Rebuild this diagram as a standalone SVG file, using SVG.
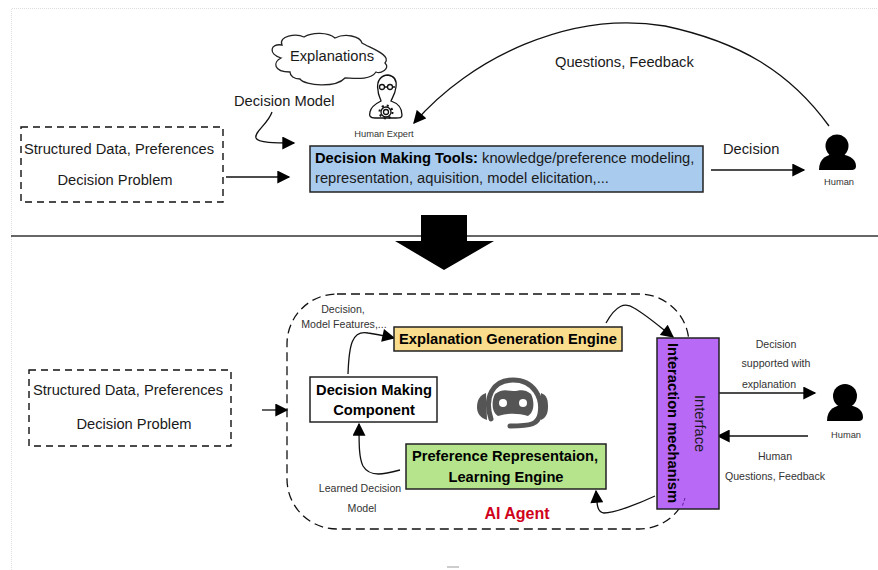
<svg xmlns="http://www.w3.org/2000/svg" width="878" height="570" viewBox="0 0 878 570">
<defs>
<marker id="ah" viewBox="0 0 10 10" refX="9" refY="5" markerWidth="14" markerHeight="13" markerUnits="userSpaceOnUse" orient="auto"><path d="M0 0L10 5L0 10Z" fill="#000"/></marker>
</defs>
<style>
text{font-family:"Liberation Sans",Arial,sans-serif;fill:#1a1a1a}
.t14{font-size:14.7px}.t10{font-size:10.6px;fill:#333}.t9{font-size:9.300px;fill:#333}
.b{font-weight:bold;fill:#000}
.c{fill:none;stroke:#111;stroke-width:1.3;marker-end:url(#ah)}
.d{fill:#fff;stroke:#111;stroke-width:1.4;stroke-dasharray:7 5}
.n{stroke:#222;stroke-width:1.5}
</style>
<rect width="878" height="570" fill="#fff"/>
<path d="M11.500 570V8.500H878" fill="none" stroke="#ddd" stroke-width="1" stroke-dasharray="1 1"/>
<path d="M11 236H878" stroke="#333" stroke-width="1.500"/>
<path d="M447 567H459" stroke="#aaa" stroke-width="1.200"/>
<path id="big-arrow" d="M421 215H467V241H494L444 270L395 241H421Z" fill="#000"/>

<g id="connectors">
<path class="c" d="M272 112C268 124 254 132 256 138C258 143 275 143 294 143"/>
<path class="c" d="M226 177H289"/>
<path class="c" d="M711 170H804"/>
<path class="c" d="M829 126C790 72 740 42 665 26C570 10 470 58 414 123"/>
<path class="c" d="M262 410H287"/>
<path class="c" d="M348 374C349 345 352 330 368 333C376 334 385 336 394 338"/>
<path class="c" d="M400 470C385 474 370 478 363 466C359 458 359 445 359 424"/>
<path class="c" d="M606 323C616 305 625 302 634 308C645 314 660 327 673 337"/>
<path class="c" d="M655 496C640 503 615 513 604 513C597 512 597 505 596 491"/>
<path class="c" d="M718 393H815"/>
<path class="c" d="M808 436H718"/>
</g>

<g id="input-top"><rect class="d" x="21" y="127" width="202" height="75"/><text class="t14" x="119" y="154" text-anchor="middle">Structured Data, Preferences</text><text class="t14" x="115" y="185" text-anchor="middle">Decision Problem</text></g>
<text class="t14" x="234" y="106">Decision Model</text>

<g id="explanations">
<path d="M290 72C273 72 273 62 281 58C268 54 270 43 282 45C278 36 296 33 304 37C312 32 328 32 335 38C345 33 360 36 362 43C370 48 392 55 385 63C391 69 380 74 376 72C370 81 352 78 345 78C336 88 305 86 300 79C294 79 290 76 290 72Z" fill="#fff" stroke="#222" stroke-width="1.300"/>
<text class="t14" x="332" y="61" text-anchor="middle">Explanations</text>
</g>

<g id="human-expert" fill="none" stroke="#111" stroke-width="1.300">
<path d="M378 90C376 80 382 75 388 75C394 76 397 80 396 87C395 95 392 98 391 101C397 103 402 107 402 115C402 118 400 118 396 118H375C370 118 369 116 370 112C371 106 377 103 381 101C380 97 378 95 378 90Z" fill="#fff"/>
<circle cx="382" cy="87" r="2.500"/><circle cx="390" cy="87" r="2.500"/><path d="M384.500 87H387.500M392.500 87H395"/>
<circle cx="386" cy="112" r="5"/><circle cx="386" cy="112" r="2.500"/>
<circle cx="386" cy="112" r="6.500" stroke-width="2" stroke-dasharray="2 3.100"/>
<text x="384" y="137" text-anchor="middle" class="t9" stroke="none" fill="#333">Human Expert</text>
</g>

<g id="tools"><rect x="310" y="146" width="393" height="46" fill="#a9cbed" stroke="#222" stroke-width="1.500"/>
<text class="t14" x="315" y="163"><tspan class="b">Decision Making Tools:</tspan> knowledge/preference modeling,</text>
<text class="t14" x="315" y="183">representation, aquisition, model elicitation,...</text></g>

<text class="t14" x="555" y="67">Questions, Feedback</text>
<text class="t14" x="723" y="154">Decision</text>

<g id="human-top"><circle cx="837" cy="146" r="11.500" fill="#000"/><path d="M819 170C819 158 827 154 837 154C847 154 856 158 856 166C856 170 853 170 850 170Z" fill="#000"/><text class="t9" x="839" y="185" text-anchor="middle">Human</text></g>

<g id="input-bottom"><rect class="d" x="29" y="370" width="202" height="76"/><text class="t14" x="128" y="395" text-anchor="middle">Structured Data, Preferences</text><text class="t14" x="134" y="429" text-anchor="middle">Decision Problem</text></g>

<g id="ai-agent"><rect x="287" y="294" width="402" height="235" rx="50" ry="50" fill="none" stroke="#111" stroke-width="1.300" stroke-dasharray="9 5"/>
<text x="517" y="519" text-anchor="middle" style="font-size:16px;font-weight:bold;fill:#d0021b">AI Agent</text></g>

<text class="t10" x="343" y="313" text-anchor="middle">Decision,</text>
<text class="t10" x="344" y="328" text-anchor="middle">Model Features,...</text>
<text class="t10" x="360" y="492" text-anchor="middle">Learned Decision</text>
<text class="t10" x="362" y="512" text-anchor="middle">Model</text>

<g id="dm"><rect class="n" x="310" y="377" width="127" height="45" fill="#fff"/><text class="t14 b" x="374" y="395" text-anchor="middle">Decision Making</text><text class="t14 b" x="374" y="415" text-anchor="middle">Component</text></g>
<g id="explain"><rect class="n" x="394" y="327" width="228" height="24" fill="#f9dc8c"/><text class="t14 b" x="508" y="344" text-anchor="middle">Explanation Generation Engine</text></g>
<g id="pref"><rect class="n" x="406" y="444" width="200" height="45" fill="#b5e48c"/><text class="t14 b" x="505" y="461" text-anchor="middle">Preference Representaion,</text><text class="t14 b" x="506" y="482" text-anchor="middle">Learning Engine</text></g>

<g id="robot">
<path d="M491 419C484 398 492 380 513 380C534 380 543 398 540 414C538 424 532 426 510 426" fill="none" stroke="#555" stroke-width="5" stroke-linecap="round"/>
<path d="M495 394C503 388 508 391 513 391C519 391 524 388 531 394C535 402 534 413 528 416C518 413 508 413 498 416C492 413 491 402 495 394Z" fill="#555"/>
<circle cx="503" cy="403" r="4" fill="#fff"/><circle cx="523" cy="403" r="4" fill="#fff"/>
<path d="M486 393C480 395 477 400 477 407C477 413 480 418 487 420Z" fill="#555"/><path d="M541 393C547 395 548 400 548 407C548 413 546 418 541 420Z" fill="#555"/>
</g>

<g id="interface"><rect x="657" y="338" width="62" height="171" fill="#b869f5" stroke="#222" stroke-width="1.500"/>
<text class="t14 b" transform="translate(668,343) rotate(90)">Interaction mechanism</text>
<text class="t14" transform="translate(695,395) rotate(90)">Interface</text></g>
<path d="M685 498L682 507" stroke="#5a1f9a" stroke-dasharray="3 2" stroke-width="1"/>

<text class="t10" x="776" y="348" text-anchor="middle">Decision</text>
<text class="t10" x="776" y="367" text-anchor="middle">supported with</text>
<text class="t10" x="769" y="388" text-anchor="middle">explanation</text>
<text class="t10" x="775" y="460" text-anchor="middle">Human</text>
<text class="t10" x="775" y="480" text-anchor="middle">Questions, Feedback</text>

<g id="human-bottom"><circle cx="845" cy="396" r="12" fill="#000"/><path d="M827 421C827 409 835 405 845 405C855 405 863 409 863 417C863 421 860 421 857 421Z" fill="#000"/><text class="t9" x="846" y="438" text-anchor="middle">Human</text></g>
</svg>
